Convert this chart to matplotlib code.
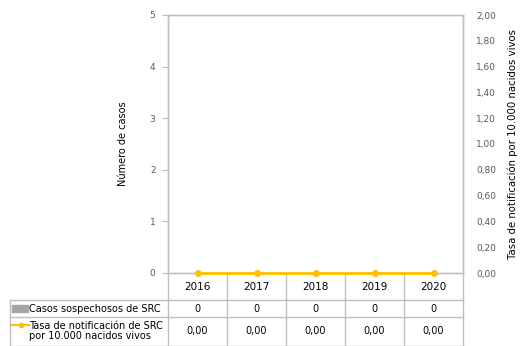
import matplotlib.pyplot as plt
from matplotlib.lines import Line2D
from matplotlib.patches import Rectangle

years = ["2016", "2017", "2018", "2019", "2020"]
casos = [0, 0, 0, 0, 0]
tasa = [0.00, 0.00, 0.00, 0.00, 0.00]
casos_label = "Casos sospechosos de SRC"
tasa_label = "Tasa de notificación de SRC\npor 10.000 nacidos vivos"

GRID = "#bfbfbf"
BAR = "#a5a5a5"
LINE = "#ffc000"
TXT = "#595959"

plt.rcParams["font.family"] = ["DejaVu Sans"]
plt.rcParams["font.size"] = 7

W, H = 526, 346
fig = plt.figure(figsize=(W / 100, H / 100), dpi=100)

# plot area in pixels
x0, x1, y_top, y_zero = 168, 463, 15, 273
ax = fig.add_axes([x0 / W, (H - y_zero) / H, (x1 - x0) / W, (y_zero - y_top) / H])
ax2 = ax.twinx()

xs = range(len(years))
ax.bar(xs, casos, width=0.6, color=BAR)
ax2.plot(xs, tasa, color=LINE, lw=2, marker="o", ms=4, clip_on=False, zorder=5)

ax.set_xlim(-0.5, len(years) - 0.5)
ax.set_ylim(0, 5)
ax2.set_ylim(0, 2)
ax.set_yticks(range(6))
ax2.set_yticks([i * 0.2 for i in range(11)])
ax2.set_yticklabels([f"{i * 0.2:.2f}".replace(".", ",") for i in range(11)])
ax.set_xticks([])

for a in (ax, ax2):
    for s in a.spines.values():
        s.set_color(GRID)
        s.set_linewidth(1)
ax.tick_params(axis="y", colors=GRID, labelcolor=TXT, labelsize=6.5, length=4, pad=5)
ax2.tick_params(axis="y", colors=GRID, labelcolor=TXT, labelsize=6.5, length=0, pad=9.5)

ax.set_ylabel("Número de casos", color="#000000", labelpad=16)
ax2.set_ylabel("Tasa de notificación por 10.000 nacidos vivos", color="#000000",
               fontsize=7.3, labelpad=8)

# data table below the axes
ph = y_zero - y_top
pw = x1 - x0


def ay(py):
    return (y_zero - py) / ph


def ax_x(px):
    return (px - x0) / pw


tr = ax.transAxes
line_kw = dict(color=GRID, lw=1, transform=tr, clip_on=False)
left = ax_x(10)
for py in (300, 317, 345.5):
    ax.add_line(Line2D([left, 1], [ay(py), ay(py)], **line_kw))
ax.add_line(Line2D([left, left], [ay(300), ay(346)], **line_kw))
for i in range(len(years) + 1):
    xf = i / len(years)
    ax.add_line(Line2D([xf, xf], [0, ay(346)], **line_kw))

bt = ax.get_xaxis_transform()
for i, yr in enumerate(years):
    ax.text(i, ay(287), yr, transform=bt, ha="center", va="center", color="#000000",
            fontsize=7.5, clip_on=False)
    ax.text(i, ay(309), str(casos[i]), transform=bt, ha="center", va="center", color="#000000")
    ax.text(i, ay(331), f"{tasa[i]:.2f}".replace(".", ","), transform=bt,
            ha="center", va="center", color="#000000")

ax.text(ax_x(29), ay(308.5), casos_label, transform=tr, ha="left", va="center", color="#000000")
ax.text(ax_x(29), ay(331), tasa_label, transform=tr, ha="left", va="center",
        color="#000000", linespacing=0.95)
ax.add_patch(Rectangle((ax_x(12), ay(312)), ax_x(28) - ax_x(12), ay(305) - ay(312),
                       color=BAR, transform=tr, clip_on=False))
ax.add_line(Line2D([ax_x(12), ax_x(29)], [ay(325), ay(325)], color=LINE, lw=1.5,
                   transform=tr, clip_on=False))
ax.add_line(Line2D([ax_x(20.5)], [ay(325)], color=LINE, marker="o", ms=3,
                   transform=tr, clip_on=False))

fig.savefig("out.png", dpi=100)
